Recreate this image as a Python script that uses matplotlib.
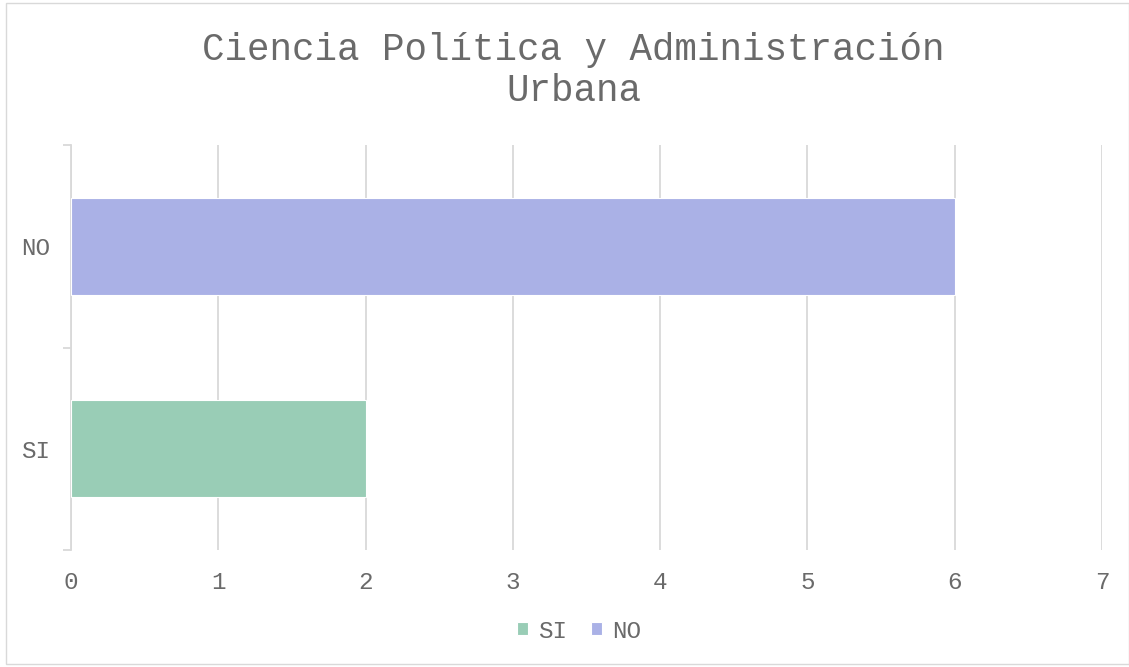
import matplotlib
matplotlib.use("Agg")
from matplotlib import pyplot as plt
from matplotlib.patches import Rectangle

# datos
categorias = ["SI", "NO"]
valores = [2, 6]
colores = ["#99CDB6", "#AAB1E6"]
titulo = "Ciencia Política y Administración\nUrbana"

plt.rcParams['font.family'] = ['Liberation Mono', 'DejaVu Sans']

fig = plt.figure(figsize=(11.29, 6.67), dpi=100)
ax = fig.add_axes([0.0629, 0.1754, 0.9131, 0.6072])

pos = list(range(len(categorias)))
barras = ax.barh(pos, valores, height=0.48, color=colores,
                 edgecolor="white", linewidth=0.8, zorder=3)

ax.set_xlim(0, 7)
ax.set_ylim(-0.5, len(categorias) - 0.5)
ax.set_xticks(range(0, 8))
ax.set_yticks(pos)
ax.set_yticklabels(categorias)
ax.set_yticks([p - 0.5 for p in range(len(categorias) + 1)], minor=True)

ax.grid(axis="x", color="#d9d9d9", linewidth=1.3, zorder=0)
for s in ["top", "right", "bottom"]:
    ax.spines[s].set_visible(False)
ax.spines["left"].set_color("#d9d9d9")
ax.spines["left"].set_linewidth(1.3)

ax.tick_params(axis="both", which="major", length=0, labelsize=17.5,
               labelcolor="#6a6a6a")
ax.tick_params(axis="x", pad=15)
ax.tick_params(axis="y", pad=15)
ax.tick_params(axis="y", which="minor", length=6, color="#d9d9d9", width=1.3)

fig.text(0.508, 0.894, titulo, ha="center", va="center", fontsize=27,
         color="#6a6a6a", linespacing=1.18)

ax.legend(barras, categorias, loc="center", bbox_to_anchor=(0.493, -0.2),
          ncol=2, frameon=False, fontsize=17.5, handlelength=0.45,
          handleheight=0.45, handletextpad=0.4, columnspacing=1.0,
          labelcolor="#6a6a6a")

fig.patches.append(Rectangle((0.005, 0.005), 0.995, 0.99, transform=fig.transFigure,
                             fill=False, edgecolor="#d9d9d9", linewidth=1))

plt.savefig("out.png", dpi=100)
